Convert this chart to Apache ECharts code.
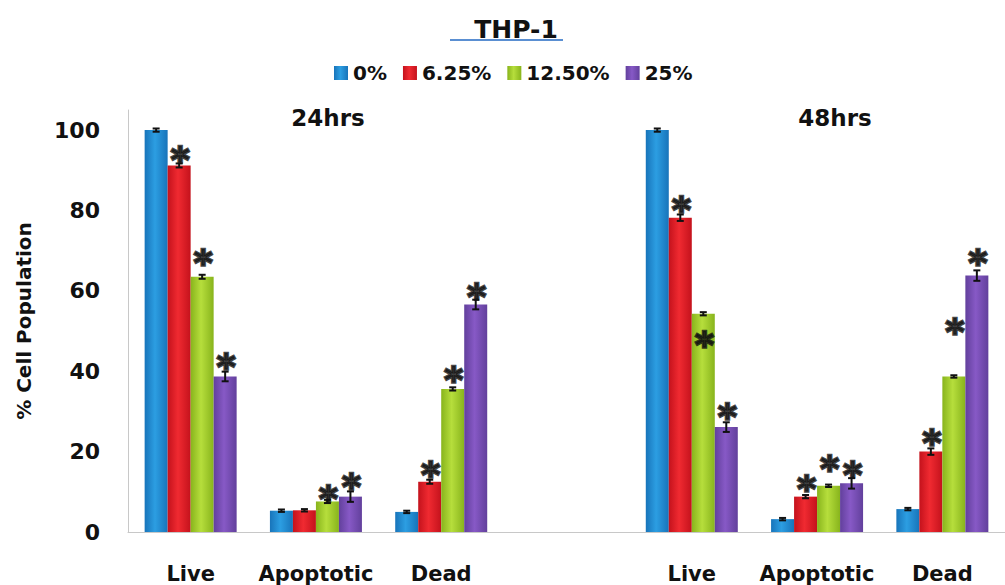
<!DOCTYPE html>
<html>
<head>
<meta charset="utf-8">
<script src="https://cdn.jsdelivr.net/npm/echarts@6/dist/echarts.min.js"></script>
<style>html,body{margin:0;padding:0;background:#fff;}#c{width:1005px;height:585px;}</style>
</head>
<body>
<div id="c"></div>
<script>
// ---- data ----
const categories = ['Live', 'Apoptotic', 'Dead', '', 'Live', 'Apoptotic', 'Dead'];
const seriesNames = ['0%', '6.25%', '12.50%', '25%'];
const values0  = [100, 5.3, 5.0, null, 100, 3.2, 5.7];
const values1  = [91.2, 5.4, 12.5, null, 78.2, 8.8, 20.0];
const values2  = [63.5, 7.6, 35.6, null, 54.3, 11.5, 38.7];
const values3  = [38.7, 8.8, 56.6, null, 26.1, 12.1, 63.8];
const errors0  = [0.4, 0.3, 0.3, null, 0.4, 0.3, 0.3];
const errors1  = [0.5, 0.3, 0.5, null, 0.8, 0.4, 0.8];
const errors2  = [0.5, 0.4, 0.4, null, 0.4, 0.3, 0.3];
const errors3  = [1.2, 1.3, 1.2, null, 1.2, 1.3, 1.3];
const stars0   = [null, null, null, null, null, null, null];
const stars1   = [94.0, null, 15.5, null, 81.5, 12.1, 23.4];
const stars2   = [68.3, 9.6, 39.2, null, 47.9, 17.1, 51.2];
const stars3   = [42.5, 12.5, 59.9, null, 30.0, 15.5, 68.3];
const yTicks = [0, 20, 40, 60, 80, 100];
const titleText = 'THP-1';
const panelTitles = ['24hrs', '48hrs'];

const values = [values0, values1, values2, values3];
const errors = [errors0, errors1, errors2, errors3];
const stars = [stars0, stars1, stars2, stars3];

// ---- style ----
const FONT = 'DejaVu Sans';
const BAR_W = 23;
const palette = [
  ['#1874BA', '#2C9EE2'],
  ['#C4121C', '#F02A31'],
  ['#88B41C', '#B6DE3C'],
  ['#62409C', '#8759C6']
];
function grad(p) {
  return new echarts.graphic.LinearGradient(0, 0, 1, 0, [
    {offset: 0, color: p[0]}, {offset: 0.45, color: p[1]}, {offset: 1, color: p[0]}
  ]);
}
const offsets = [-1.5, -0.5, 0.5, 1.5].map(k => k * BAR_W);

const series = [];
values.forEach((vals, i) => {
  series.push({
    name: seriesNames[i], type: 'bar', data: vals, barWidth: BAR_W, barGap: '0%',
    itemStyle: {color: grad(palette[i])}, z: 2
  });
});
values.forEach((vals, i) => {
  const data = [];
  vals.forEach((v, j) => { if (v != null) data.push([j, v, errors[i][j]]); });
  series.push({
    type: 'custom', coordinateSystem: 'cartesian2d', z: 5, silent: true,
    data: data,
    encode: {x: 0, y: 1},
    renderItem: function (params, api) {
      const idx = api.value(0), v = api.value(1), e = api.value(2);
      const c = api.coord([idx, v]);
      const x = c[0] + offsets[i];
      const yt = api.coord([idx, v + e])[1];
      const yb = api.coord([idx, v - e])[1];
      const st = {stroke: '#111', lineWidth: 2};
      return {type: 'group', children: [
        {type: 'line', shape: {x1: x, y1: yt, x2: x, y2: yb}, style: st},
        {type: 'line', shape: {x1: x - 3.5, y1: yt, x2: x + 3.5, y2: yt}, style: st},
        {type: 'line', shape: {x1: x - 3.5, y1: yb, x2: x + 3.5, y2: yb}, style: st}
      ]};
    }
  });
});
stars.forEach((arr, i) => {
  const data = [];
  arr.forEach((v, j) => { if (v != null) data.push([j, v]); });
  if (!data.length) return;
  series.push({
    type: 'scatter', symbolSize: 0, data: data, z: 6, silent: true,
    label: {show: true, formatter: '*', position: 'inside', offset: [offsets[i] + 1, 5],
      fontFamily: FONT, fontWeight: 'bold', fontSize: 36, color: '#111',
      textBorderColor: '#111', textBorderWidth: 2.5}
  });
});

const chart = echarts.init(document.getElementById('c'), null, {renderer: 'svg'});
chart.setOption({
  animation: false,
  backgroundColor: '#fff',
  title: [
    {text: titleText, left: 511, top: 12, textAlign: 'center',
     textStyle: {fontFamily: FONT, fontWeight: 'bold', fontSize: 25, color: '#111'}},
    {text: panelTitles[0], left: 323, top: 101, textAlign: 'center',
     textStyle: {fontFamily: FONT, fontWeight: 'bold', fontSize: 23, color: '#111'}},
    {text: panelTitles[1], left: 830, top: 101, textAlign: 'center',
     textStyle: {fontFamily: FONT, fontWeight: 'bold', fontSize: 23, color: '#111'}}
  ],
  graphic: [{type: 'line', shape: {x1: 450, y1: 40, x2: 563, y2: 40},
    style: {stroke: '#5A8FD2', lineWidth: 2}}],
  legend: {
    data: seriesNames, left: 329, top: 58, itemWidth: 14, itemHeight: 14, itemGap: 16,
    icon: 'rect',
    textStyle: {fontFamily: FONT, fontWeight: 'bold', fontSize: 20, color: '#111', padding: [0, 0, 0, 0]}
  },
  grid: {left: 128, right: -15.5, top: 110, bottom: 53, containLabel: false},
  xAxis: {
    type: 'category', data: categories,
    axisLine: {lineStyle: {color: '#c8c8c8', width: 1}},
    axisTick: {show: false},
    axisLabel: {interval: 0, margin: 31, fontFamily: FONT, fontWeight: 'bold', fontSize: 21, color: '#111'}
  },
  yAxis: {
    type: 'value', min: 0, max: 105, interval: 20,
    name: '% Cell Population', nameLocation: 'middle', nameGap: 94, nameRotate: 90,
    nameTextStyle: {fontFamily: FONT, fontWeight: 'bold', fontSize: 20, color: '#111'},
    axisLine: {show: true, lineStyle: {color: '#c8c8c8', width: 1}},
    axisTick: {show: false},
    splitLine: {show: false},
    axisLabel: {margin: 28, fontFamily: FONT, fontWeight: 'bold', fontSize: 22, color: '#111',
      showMaxLabel: false,
      formatter: v => (yTicks.indexOf(v) >= 0 ? String(v) : '')}
  },
  series: series
});
</script>
</body>
</html>
